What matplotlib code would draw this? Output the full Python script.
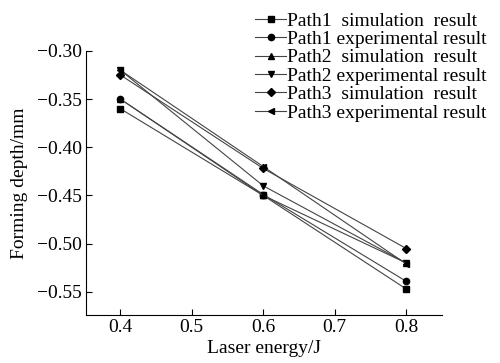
import matplotlib
matplotlib.use('Agg')
import matplotlib.pyplot as plt

plt.rcParams['font.family'] = ['Liberation Serif', 'DejaVu Serif']
plt.rcParams['axes.unicode_minus'] = True

energy = [0.4, 0.6, 0.8]
labels = ['Path1  simulation  result', 'Path1 experimental result',
          'Path2  simulation  result', 'Path2 experimental result',
          'Path3  simulation  result', 'Path3 experimental result']
markers = ['s', 'o', '^', 'v', 'D', '<']
path1_sim = [-0.360, -0.450, -0.547]
path1_exp = [-0.350, -0.449, -0.539]
path2_sim = [-0.350, -0.450, -0.520]
path2_exp = [-0.320, -0.440, -0.520]
path3_sim = [-0.325, -0.422, -0.505]
path3_exp = [-0.320, -0.420, -0.521]
series = [path1_sim, path1_exp, path2_sim, path2_exp, path3_sim, path3_exp]

fig = plt.figure(figsize=(5, 3.63), dpi=100)
ax = fig.add_axes([0.172, 0.132, 0.712, 0.728])

for y, m, lab in zip(series, markers, labels):
    ms = 4 if m == 'D' else 4.5
    ax.plot(energy, y, color='#444444', lw=0.8, marker=m, ms=ms,
            mfc='black', mec='black', label=lab)

ax.set_xlim(0.352, 0.85)
ax.set_ylim(-0.574, -0.30)
ax.set_xticks([0.4, 0.5, 0.6, 0.7, 0.8])
ax.set_yticks([-0.30, -0.35, -0.40, -0.45, -0.50, -0.55])
ax.set_yticklabels(['\u22120.30', '\u22120.35', '\u22120.40', '\u22120.45', '\u22120.50', '\u22120.55'])
ax.spines['top'].set_visible(False)
ax.spines['right'].set_visible(False)
ax.tick_params(direction='in', length=4, labelsize=14, pad=3)
ax.set_xlabel('Laser energy/J', fontsize=14, labelpad=3)
ax.set_ylabel('Forming depth/mm', fontsize=14, labelpad=6)

ax.legend(loc='upper left', bbox_to_anchor=(0.51, 0.967), bbox_transform=fig.transFigure,
          frameon=False, fontsize=14, handlelength=1.6, handletextpad=0.05,
          labelspacing=0.04, borderaxespad=0, borderpad=0)

fig.savefig('out.png', dpi=100)
